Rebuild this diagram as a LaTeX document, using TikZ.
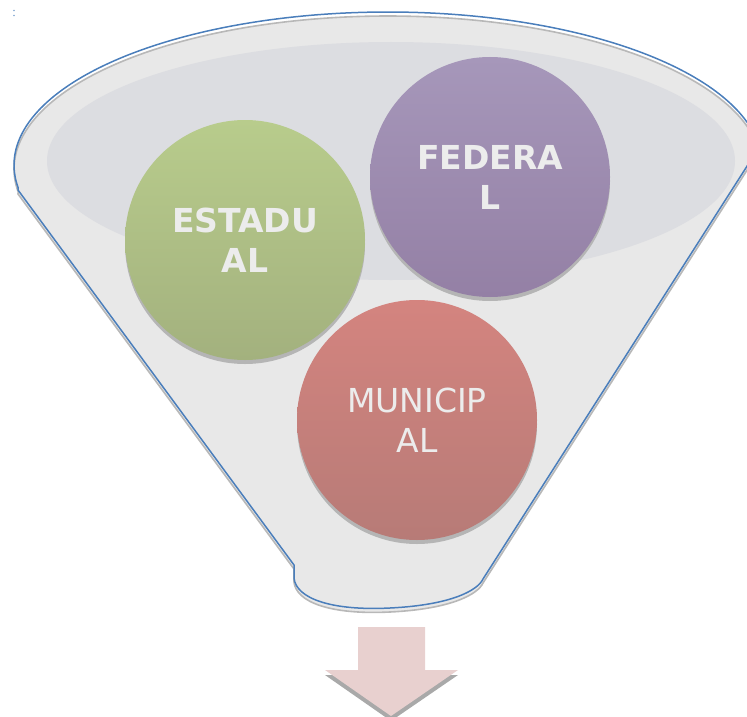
\documentclass[tikz,border=0pt]{standalone}
\usepackage{fontspec}
\setmainfont{DejaVu Sans}
\definecolor{funfill}{HTML}{E8E8E8}
\definecolor{funedge}{HTML}{B8B8B8}
\definecolor{innerfill}{HTML}{DCDDE1}
\definecolor{rimblue}{HTML}{4A7EBB}
\definecolor{shadowgray}{HTML}{B5B5B5}
\definecolor{gtop}{HTML}{B8CC8C}
\definecolor{gbot}{HTML}{A3B17E}
\definecolor{ptop}{HTML}{A697BA}
\definecolor{pbot}{HTML}{9480A5}
\definecolor{rtop}{HTML}{D4847F}
\definecolor{rbot}{HTML}{B77B77}
\definecolor{arrowfill}{HTML}{E8D0CF}
\definecolor{arrowshadow}{HTML}{A9A9A9}
\definecolor{labeltext}{HTML}{ECECEC}
\newcommand{\funnelpath}{(294,565) -- (18,190) -- plot[domain=171.4:353.2, samples=150] ({388+374*cos(\x)},{165+153*sin(\x)}) -- (483,579) .. controls (478,590) and (452,605) .. (390,608) .. controls (330,611) and (296,598) .. (294,578) -- cycle}
\tikzset{
  bubble/.style={circle, minimum size=240pt, inner sep=0pt, align=center,
    text=labeltext, font=\fontsize{33}{40}\selectfont},
  bubbleshadow/.style={fill=shadowgray},
}
\begin{document}
\begin{tikzpicture}[x=1pt,y=-1pt]
\useasboundingbox (0,0) rectangle (747,717);
% tiny mark
\fill[rimblue!70] (14,10.5) circle (0.8pt);
\fill[rimblue!70] (14,15.5) circle (0.8pt);
% funnel body (shifted copy)
\begin{scope}[shift={(0,4)}]
\path[fill=funfill, draw=funedge, line width=1.6pt] \funnelpath;
\end{scope}
% inner ellipse
\fill[innerfill] (391,161) ellipse [x radius=344pt, y radius=119pt];
% blue outline
\draw[rimblue, line width=1.5pt, line join=round] \funnelpath;
% circle shadows
\fill[bubbleshadow] (245,244) circle (120pt);
\fill[bubbleshadow] (490,181) circle (120pt);
\fill[bubbleshadow] (417,424) circle (120pt);
% circles
\node[bubble, top color=gtop, bottom color=gbot, font=\fontsize{33}{40}\selectfont\bfseries] (est) at (245,240) {ESTADU\\AL};
\node[bubble, top color=ptop, bottom color=pbot, font=\fontsize{33}{40}\selectfont\bfseries] (fed) at (490,177) {FEDERA\\L};
\node[bubble, top color=rtop, bottom color=rbot] (mun) at (417,420) {MUNICIP\\AL};
% arrow
\fill[arrowshadow] (325,675) -- (458,675) -- (391,721) -- cycle;
\fill[arrowfill] (358,627) -- (425,627) -- (425,670) -- (458,670) -- (391,716) -- (325,670) -- (358,670) -- cycle;
\end{tikzpicture}
\end{document}
